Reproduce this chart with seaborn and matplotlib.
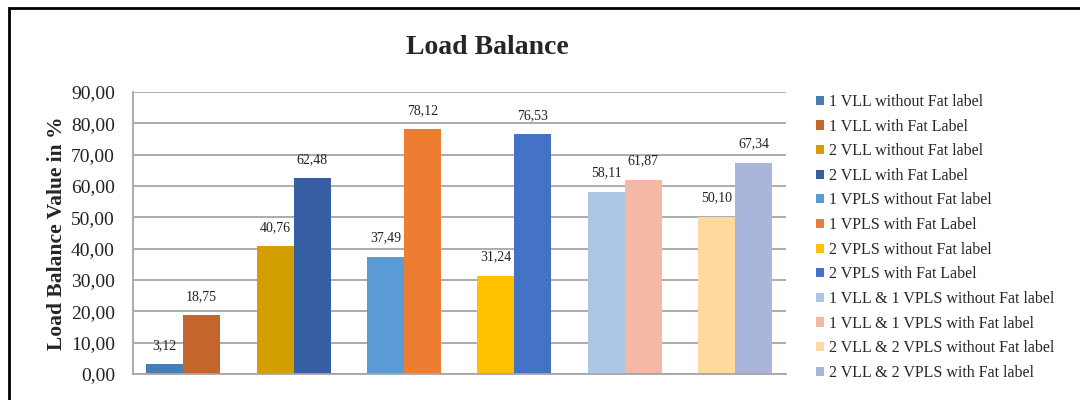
import pandas as pd
import numpy as np
import matplotlib.pyplot as plt
import seaborn as sns
from matplotlib.patches import Patch, Rectangle

# series, left to right
labels = [
    "1 VLL without Fat label", "1 VLL with Fat Label",
    "2 VLL without Fat label", "2 VLL with Fat Label",
    "1 VPLS without Fat label", "1 VPLS with Fat Label",
    "2 VPLS without Fat label", "2 VPLS with Fat Label",
    "1 VLL & 1 VPLS without Fat label", "1 VLL & 1 VPLS with Fat label",
    "2 VLL & 2 VPLS without Fat label", "2 VLL & 2 VPLS with Fat label",
]
values = [3.12, 18.75, 40.76, 62.48, 37.49, 78.12, 31.24, 76.53, 58.11, 61.87, 50.10, 67.34]
groups = [0, 0, 1, 1, 2, 2, 3, 3, 4, 4, 5, 5]
slots = ["without", "with"] * 6
colors = ["#4A7EB1", "#C4652B", "#D29E00", "#375EA2", "#5B9BD5", "#ED7D31",
          "#FFC000", "#4472C4", "#ADC6E5", "#F4B9A5", "#FFD99F", "#A9B5DA"]
yticks = np.arange(0, 91, 10)

df = pd.DataFrame({"group": groups, "slot": slots, "value": values, "label": labels})

sns.set_style("white")
plt.rcParams['font.family'] = ['Liberation Serif', 'DejaVu Serif']

fig = plt.figure(figsize=(10.8, 4), dpi=100)
ax = fig.add_axes([133 / 1080, 1 - 374 / 400, 653 / 1080, 282 / 400])

sns.barplot(data=df, x="group", y="value", hue="slot", hue_order=["without", "with"],
            width=0.67, saturation=1, legend=False, ax=ax, errorbar=None)

# recolour each bar by its series (patches sorted left to right)
bars = sorted([p for p in ax.patches], key=lambda p: p.get_x())
for p, c in zip(bars, colors):
    p.set_facecolor(c)
    p.set_edgecolor("none")

for cont in ax.containers:
    ax.bar_label(cont, labels=[f"{v:.2f}".replace(".", ",") for v in cont.datavalues],
                 padding=9, fontsize=10, color="#222222")

ax.set_ylim(0, 90)
ax.set_xlim(-0.455, 5.46)
ax.set_yticks(yticks)
ax.set_yticklabels([f"{v:.2f}".replace(".", ",") for v in yticks], fontsize=14, color="#222222")
ax.tick_params(axis="y", length=0, pad=13)
ax.set_xticks([])
ax.set_xlabel("")
ax.yaxis.grid(True, color="#A6A6A6", linewidth=1.3)
ax.set_axisbelow(True)
for s in ["top", "right"]:
    ax.spines[s].set_visible(False)
for s in ["left", "bottom"]:
    ax.spines[s].set_color("#A6A6A6")
    ax.spines[s].set_linewidth(1.3)
ax.set_ylabel("Load Balance Value in %", fontsize=15.5, fontweight="bold", labelpad=3)

fig.text(487 / 1080, 1 - 47 / 400, "Load Balance", ha="center", va="center",
         fontsize=20, fontweight="bold")

handles = [Patch(facecolor=c, edgecolor="none") for c in colors]
fig.legend(handles, labels, loc="upper left", bbox_to_anchor=(816 / 1080, 1 - 94 / 400),
           frameon=False, fontsize=11.5, handlelength=0.5, handleheight=0.5,
           handletextpad=0.3, labelspacing=0.54, borderpad=0, borderaxespad=0)

# outer frame of the chart, clipped by the image on right and bottom
fig.patches.append(Rectangle((8.5 / 1080, -0.1), 1.2, 1.1 - 8.5 / 400, transform=fig.transFigure,
                             fill=False, edgecolor="black", linewidth=2))

plt.savefig("out.png", dpi=100)
